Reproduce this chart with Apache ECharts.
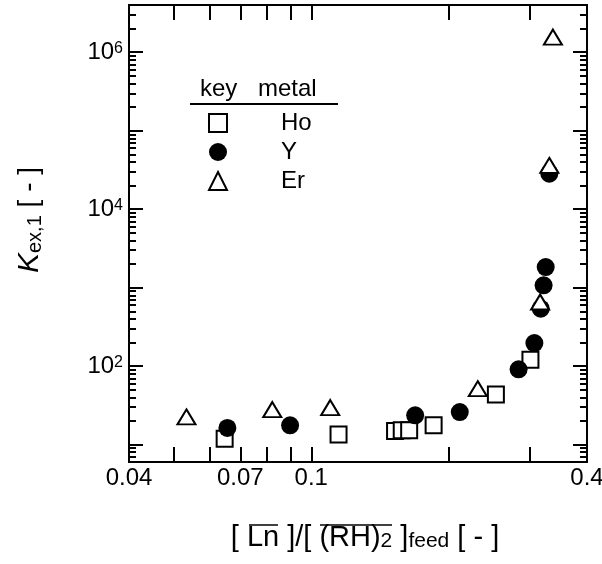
<!DOCTYPE html>
<html>
<head>
<meta charset="utf-8">
<script src="https://cdn.jsdelivr.net/npm/echarts@6/dist/echarts.min.js"></script>
<style>
  html, body { margin: 0; padding: 0; background: #fff; }
  #chart { width: 602px; height: 564px; }
</style>
</head>
<body>
<div id="chart"></div>
<script>
// Ho - open squares
const hoX = [0.0647, 0.1147, 0.1524, 0.1576, 0.1636, 0.185, 0.253, 0.301]
const hoY = [11.9, 13.4, 14.9, 15.2, 15.2, 17.6, 43.4, 121]
// Y - filled circles
const yX = [0.0656, 0.0899, 0.1686, 0.211, 0.2836, 0.307, 0.317, 0.3216, 0.325, 0.331]
const yY = [16.3, 17.6, 23.6, 26.0, 91, 197, 540, 1070, 1830, 28300]
// Er - open triangles
const erX = [0.0534, 0.0822, 0.110, 0.231, 0.316, 0.331, 0.337]
const erY = [22.5, 27.9, 29.6, 51.6, 656, 36100, 1560000]

// axis ticks and labels
const xTicks = [0.05, 0.06, 0.07, 0.08, 0.09, 0.1, 0.2, 0.3]
const xLabelValues = [0.04, 0.07, 0.1, 0.4]
const xLabelText = ['0.04', '0.07', '0.1', '0.4']
const yMajorTicks = [10, 100, 1000, 10000, 100000, 1000000]
const yMinorTicks = [
  7, 8, 9,
  20, 30, 40, 50, 60, 70, 80, 90,
  200, 300, 400, 500, 600, 700, 800, 900,
  2000, 3000, 4000, 5000, 6000, 7000, 8000, 9000,
  20000, 30000, 40000, 50000, 60000, 70000, 80000, 90000,
  200000, 300000, 400000, 500000, 600000, 700000, 800000, 900000,
  2000000, 3000000
]
const yLabelValues = [100, 10000, 1000000]

const FONT = "'Liberation Sans', Arial, sans-serif"
const pair = (xs, ys) => xs.map((x, i) => [x, ys[i]])

const chart = echarts.init(document.getElementById('chart'), null, { renderer: 'canvas' })

const lineStyle = { color: '#000', width: 2 }

// x axis: bottom with labels, top mirror
const xBase = (pos, withLabel) => ({
  type: 'log',
  logBase: 10,
  min: 0.04,
  max: 0.4,
  position: pos,
  gridIndex: 0,
  axisLine: { show: true, onZero: false, lineStyle },
  axisTick: { show: true, inside: true, length: 15, customValues: xTicks, lineStyle },
  minorTick: { show: false },
  splitLine: { show: false },
  axisLabel: withLabel ? {
    show: true,
    customValues: xLabelValues,
    margin: 4,
    color: '#000',
    fontFamily: FONT,
    fontSize: 24,
    formatter: (v) => {
      const i = xLabelValues.findIndex(t => Math.abs(Math.log10(v / t)) < 1e-4)
      return i >= 0 ? xLabelText[i] : ''
    }
  } : { show: false }
})

// y axis: major & minor ticks on both sides
const yBase = (pos, ticks, len, withLabel) => ({
  type: 'log',
  logBase: 10,
  min: 6,
  max: 4000000,
  position: pos,
  gridIndex: 0,
  axisLine: { show: true, onZero: false, lineStyle },
  axisTick: { show: true, inside: true, length: len, customValues: ticks, lineStyle },
  minorTick: { show: false },
  splitLine: { show: false },
  axisLabel: withLabel ? {
    show: true,
    customValues: yLabelValues,
    margin: 6,
    color: '#000',
    fontFamily: FONT,
    formatter: (v) => '{b|10}{sup|' + Math.round(Math.log10(v)) + '}',
    rich: {
      b: { fontSize: 24, fontFamily: FONT, color: '#000', lineHeight: 24, verticalAlign: 'bottom' },
      sup: { fontSize: 16, fontFamily: FONT, color: '#000', lineHeight: 16, verticalAlign: 'top', padding: [0, 0, 10, 0] }
    }
  } : { show: false }
})

const xAxes = [xBase('bottom', true), xBase('top', false)]
xAxes[0].name = '{p|[ }{m|Ln}{m| ]/[ }{m|(RH)}{sub|2}{m| ]}{sub|feed}{m| [ - ]}'
xAxes[0].nameLocation = 'middle'
xAxes[0].nameGap = 61
xAxes[0].nameMoveOverlap = false
xAxes[0].nameTextStyle = {
  color: '#000',
  fontFamily: FONT,
  rich: {
    p: { fontSize: 29, fontFamily: FONT, color: '#000', lineHeight: 29, verticalAlign: 'top', padding: [0, 0, 0, 14] },
    m: { fontSize: 29, fontFamily: FONT, color: '#000', lineHeight: 29, verticalAlign: 'top' },
    sub: { fontSize: 21, fontFamily: FONT, color: '#000', lineHeight: 21, verticalAlign: 'bottom', padding: [15, 0, 0, 0] }
  }
}

const yAxes = [
  yBase('left', yMajorTicks, 14, true),
  yBase('left', yMinorTicks, 7, false),
  yBase('right', yMajorTicks, 14, false),
  yBase('right', yMinorTicks, 7, false)
]
yAxes[0].name = '{k|K}{s|ex,1}{m| [ - ]}'
yAxes[0].nameLocation = 'middle'
yAxes[0].nameRotate = 90
yAxes[0].nameGap = 84
yAxes[0].nameMoveOverlap = false
yAxes[0].nameTextStyle = {
  color: '#000',
  fontFamily: FONT,
  rich: {
    k: { fontSize: 30, fontFamily: FONT, fontStyle: 'italic', color: '#000', lineHeight: 30, verticalAlign: 'top', padding: [0, 0, 0, 27] },
    s: { fontSize: 20, fontFamily: FONT, color: '#000', lineHeight: 20, verticalAlign: 'bottom', padding: [14, 0, 0, 0] },
    m: { fontSize: 28, fontFamily: FONT, color: '#000', lineHeight: 30, verticalAlign: 'top' }
  }
}

const symbolStyle = { color: '#fff', borderColor: '#000', borderWidth: 2, opacity: 1 }

const option = {
  animation: false,
  backgroundColor: '#fff',
  textStyle: { fontFamily: FONT, color: '#000' },
  grid: { left: 129, top: 5, width: 458, height: 457, containLabel: false, outerBoundsMode: 'none' },
  xAxis: xAxes,
  yAxis: yAxes,
  legend: {
    data: ['Ho', 'Y', 'Er'],
    orient: 'vertical',
    left: 208,
    top: 111,
    padding: 0,
    itemWidth: 18,
    itemHeight: 18,
    itemGap: 5,
    selectedMode: false,
    formatter: (name) => '{n|' + name + '}',
    textStyle: {
      rich: { n: { fontSize: 24, fontFamily: FONT, color: '#000', lineHeight: 18, padding: [0, 0, 0, 49] } }
    }
  },
  graphic: [
    // legend header
    { type: 'text', left: 200, top: 77, style: { text: 'key', font: '24px ' + FONT, fill: '#000' } },
    { type: 'text', left: 258, top: 77, style: { text: 'metal', font: '24px ' + FONT, fill: '#000' } },
    { type: 'line', shape: { x1: 190, y1: 104, x2: 338, y2: 104 }, style: { stroke: '#000', lineWidth: 2 } },
    // overlines in the x-axis title
    { type: 'line', shape: { x1: 249, y1: 525, x2: 278, y2: 525 }, style: { stroke: '#000', lineWidth: 1.5 } },
    { type: 'line', shape: { x1: 320, y1: 525, x2: 392, y2: 525 }, style: { stroke: '#000', lineWidth: 1.5 } }
  ],
  series: [
    {
      name: 'Ho',
      type: 'scatter',
      xAxisIndex: 0,
      yAxisIndex: 0,
      symbol: 'rect',
      symbolSize: 16,
      itemStyle: symbolStyle,
      data: pair(hoX, hoY)
    },
    {
      name: 'Y',
      type: 'scatter',
      xAxisIndex: 0,
      yAxisIndex: 0,
      symbol: 'circle',
      symbolSize: 18,
      itemStyle: { color: '#000', borderColor: '#000', borderWidth: 0, opacity: 1 },
      data: pair(yX, yY)
    },
    {
      name: 'Er',
      type: 'scatter',
      xAxisIndex: 0,
      yAxisIndex: 0,
      symbol: 'triangle',
      symbolSize: [18, 15],
      itemStyle: symbolStyle,
      data: pair(erX, erY)
    }
  ]
}

chart.setOption(option)
</script>
</body>
</html>
